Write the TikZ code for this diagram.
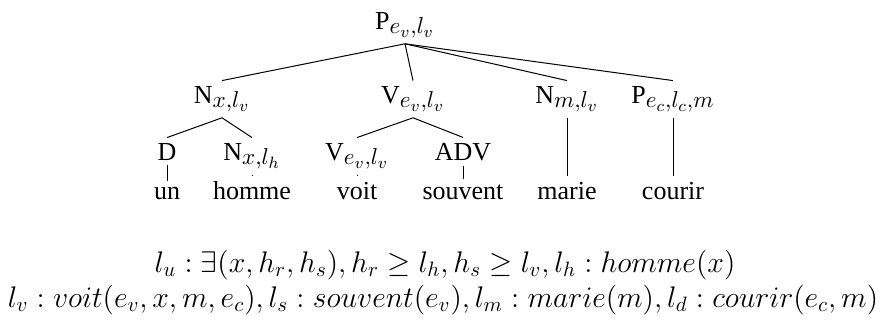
\RequirePackage{fix-cm}
\documentclass[tikz,border=0pt]{standalone}
\usepackage[no-math]{fontspec}
\setmainfont{Liberation Serif}
\DeclareMathSizes{13}{16.4}{11.5}{8.2}
\DeclareMathSizes{14.9}{14.9}{10.4}{7.5}
\begin{document}
\begin{tikzpicture}[x=0.5pt,y=-0.5pt,
  lab/.style={inner sep=2.5pt, anchor=base, font=\fontsize{13}{15}\selectfont},
  formula/.style={inner sep=0pt, anchor=base, font=\fontsize{14.9}{18}\selectfont},
  edge/.style={line width=0.5pt}]
\useasboundingbox (0,0) rectangle (889,322);
% root
\node[lab] (root) at (405,29) {P$_{e_v,l_v}$};
% level 2
\node[lab] (nx) at (222,103) {N$_{x,l_v}$};
\node[lab] (vv) at (413,103) {V$_{e_v,l_v}$};
\node[lab] (nm) at (567,103) {N$_{m,l_v}$};
\node[lab] (pc) at (673,103) {P$_{e_c,l_c,m}$};
% level 3
\node[lab] (d) at (167,160) {D};
\node[lab] (nh) at (252,160) {N$_{x,l_h}$};
\node[lab] (v2) at (357,160) {V$_{e_v,l_v}$};
\node[lab] (adv) at (463,160) {ADV};
% words
\node[lab] (un) at (167,199) {un};
\node[lab] (homme) at (252,199) {homme};
\node[lab] (voit) at (357,199) {voit};
\node[lab] (souvent) at (463,199) {souvent};
\node[lab] (marie) at (567,199) {marie};
\node[lab] (courir) at (673,199) {courir};
% edges
\draw[edge] (root.south) -- (nx.north);
\draw[edge] (root.south) -- (vv.north);
\draw[edge] (root.south) -- (nm.north);
\draw[edge] (root.south) -- (pc.north);
\draw[edge] (nx.south) -- (d.north);
\draw[edge] (nx.south) -- (nh.north);
\draw[edge] (vv.south) -- (v2.north);
\draw[edge] (vv.south) -- (adv.north);
\draw[edge] (d.south) -- (un.north);
\draw[edge] (nh.south) -- (homme.north);
\draw[edge] (v2.south) -- (voit.north);
\draw[edge] (adv.south) -- (souvent.north);
\draw[edge] (nm.south) -- (marie.north);
\draw[edge] (pc.south) -- (courir.north);
% formulas
\node[formula] (f1) at (445,272) {$l_u : \exists(x,h_r,h_s), h_r \geq l_h, h_s \geq l_v, l_h : homme(x)$};
\node[formula] (f2) at (443,307) {$l_v : voit(e_v,x,m,e_c), l_s : souvent(e_v), l_m : marie(m), l_d : courir(e_c,m)$};
\end{tikzpicture}
\end{document}
